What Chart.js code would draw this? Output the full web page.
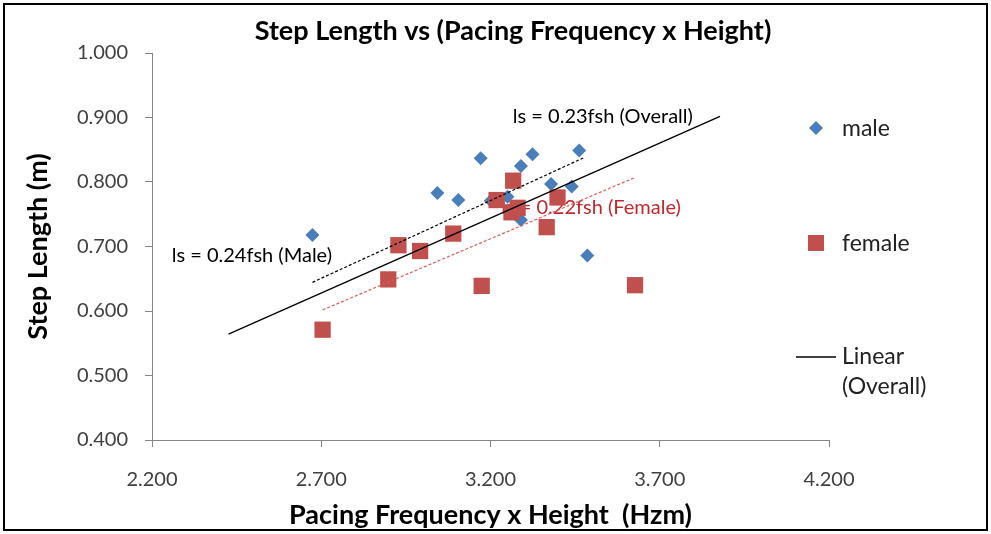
<!DOCTYPE html>
<html lang="en">
<head>
    <meta charset="UTF-8">
    <title>Step Length vs (Pacing Frequency x Height)</title>
    <style>
        body {
            margin: 0;
            background: #fff;
        }
        #chartBox {
            width: 991px;
            height: 534px;
        }
    </style>
</head>
<body>
    <div id="chartBox">
        <canvas id="myChart" width="991" height="534"></canvas>
    </div>
    <script src="https://cdn.jsdelivr.net/npm/chart.js"></script>
    <script>
        // values
        var maleX = [2.674, 3.043, 3.105, 3.171, 3.201, 3.250, 3.290, 3.290, 3.324, 3.379, 3.440, 3.462, 3.486];
        var maleY = [0.718, 0.783, 0.772, 0.837, 0.771, 0.777, 0.825, 0.741, 0.843, 0.797, 0.793, 0.849, 0.686];
        var femaleX = [2.704, 2.898, 2.928, 2.992, 3.090, 3.174, 3.218, 3.262, 3.267, 3.280, 3.366, 3.398, 3.627];
        var femaleY = [0.571, 0.649, 0.702, 0.693, 0.720, 0.639, 0.772, 0.753, 0.802, 0.760, 0.730, 0.776, 0.640];

        // trendlines ls = k * fsh : slope and x range as drawn
        var trendNames = ['Overall', 'Male', 'Female'];
        var trendSlopes = [0.2325, 0.2410, 0.2225];
        var trendFrom = [2.426, 2.674, 2.704];
        var trendTo = [3.878, 3.479, 3.627];
        var trendLabels = ['ls = 0.23fsh (Overall)', 'ls = 0.24fsh (Male)', 'ls = 0.22fsh (Female)'];
        var labelAt = [[3.532, 0.901], [2.495, 0.686], [3.497, 0.760]];

        var xTicks = [2.2, 2.7, 3.2, 3.7, 4.2];
        var yTicks = [0.4, 0.5, 0.6, 0.7, 0.8, 0.9, 1.0];

        var fontName = 'Lato, "Open Sans", sans-serif';

        function points(xs, ys) {
            return xs.map(function(x, i) { return { x: x, y: ys[i] }; });
        }

        function trend(i) {
            return [
                { x: trendFrom[i], y: trendSlopes[i] * trendFrom[i] },
                { x: trendTo[i], y: trendSlopes[i] * trendTo[i] }
            ];
        }

        var extras = {
            id: 'extras',
            beforeDraw: function(chart) {
                var ctx = chart.ctx;
                ctx.save();
                ctx.fillStyle = '#fff';
                ctx.fillRect(0, 0, chart.width, chart.height);
                ctx.restore();
            },
            beforeDatasetsDraw: function(chart) {
                // the equation labels sit under the markers
                var ctx = chart.ctx;
                var xs = chart.scales.x, ys = chart.scales.y;
                ctx.save();
                ctx.font = '20px ' + fontName;
                ctx.textAlign = 'center';
                ctx.textBaseline = 'middle';
                var colors = ['#000', '#000', '#c0282e'];
                for (var i = 0; i < trendLabels.length; i++) {
                    ctx.fillStyle = colors[i];
                    ctx.fillText(trendLabels[i], xs.getPixelForValue(labelAt[i][0]), ys.getPixelForValue(labelAt[i][1]));
                }
                ctx.restore();
            },
            afterDraw: function(chart) {
                var ctx = chart.ctx;
                ctx.save();
                // title
                ctx.fillStyle = '#000';
                ctx.font = 'bold 27px ' + fontName;
                ctx.textAlign = 'center';
                ctx.textBaseline = 'middle';
                ctx.fillText('Step Length vs (Pacing Frequency x Height)', 513, 31);

                // legend
                ctx.font = '23px ' + fontName;
                ctx.textAlign = 'left';
                ctx.fillStyle = '#4a7ebb';
                ctx.beginPath();
                ctx.moveTo(816, 121); ctx.lineTo(823, 128); ctx.lineTo(816, 135); ctx.lineTo(809, 128);
                ctx.closePath();
                ctx.fill();
                ctx.fillStyle = '#c0504d';
                ctx.fillRect(808, 235, 16, 16);
                ctx.strokeStyle = '#000';
                ctx.lineWidth = 1.3;
                ctx.beginPath();
                ctx.moveTo(796, 357); ctx.lineTo(836, 357);
                ctx.stroke();
                ctx.fillStyle = '#222';
                ctx.fillText('male', 842, 129);
                ctx.fillText('female', 842, 244);
                ctx.fillText('Linear', 842, 357);
                ctx.fillText('(Overall)', 842, 387);

                // frame
                ctx.strokeStyle = '#000';
                ctx.lineWidth = 2;
                ctx.strokeRect(4, 4, 983, 526);
                ctx.restore();
            }
        };

        var axisColor = '#868686';

        var config = {
            type: 'scatter',
            data: {
                datasets: [
                    {
                        label: 'Linear (' + trendNames[0] + ')',
                        type: 'line',
                        data: trend(0),
                        borderColor: '#000',
                        borderWidth: 1.3,
                        pointRadius: 0,
                        order: 0
                    },
                    {
                        label: 'Linear (' + trendNames[1] + ')',
                        type: 'line',
                        data: trend(1),
                        borderColor: '#000',
                        borderWidth: 1.2,
                        borderDash: [3, 2],
                        pointRadius: 0,
                        order: 0
                    },
                    {
                        label: 'Linear (' + trendNames[2] + ')',
                        type: 'line',
                        data: trend(2),
                        borderColor: '#e05a5a',
                        borderWidth: 1.2,
                        borderDash: [3, 2],
                        pointRadius: 0,
                        order: 0
                    },
                    {
                        label: 'female',
                        data: points(femaleX, femaleY),
                        pointStyle: 'rect',
                        pointRadius: 11.5,
                        pointHoverRadius: 11.5,
                        backgroundColor: '#c0504d',
                        borderColor: '#c0504d',
                        borderWidth: 0,
                        order: 1
                    },
                    {
                        label: 'male',
                        data: points(maleX, maleY),
                        pointStyle: 'rectRot',
                        pointRadius: 7,
                        pointHoverRadius: 7,
                        backgroundColor: '#4a7ebb',
                        borderColor: '#4a7ebb',
                        borderWidth: 0,
                        order: 2
                    }
                ]
            },
            options: {
                responsive: false,
                animation: false,
                layout: {
                    padding: { left: 0, top: 53, right: 162, bottom: 0 }
                },
                plugins: {
                    legend: { display: false },
                    tooltip: { enabled: false }
                },
                scales: {
                    x: {
                        type: 'linear',
                        min: xTicks[0],
                        max: xTicks[xTicks.length - 1],
                        afterFit: function(s) { s.height = 94; },
                        afterBuildTicks: function(s) { s.ticks = xTicks.map(function(v) { return { value: v }; }); },
                        ticks: {
                            color: '#404040',
                            font: { family: fontName, size: 20 },
                            padding: 21,
                            callback: function(v) { return Number(v).toFixed(3); }
                        },
                        grid: { drawOnChartArea: false, tickLength: 7, color: axisColor },
                        border: { color: axisColor },
                        title: {
                            display: true,
                            text: 'Pacing Frequency x Height  (Hzm)',
                            color: '#000',
                            font: { family: fontName, size: 27, weight: 'bold' },
                            padding: { top: 0, bottom: 3 }
                        }
                    },
                    y: {
                        type: 'linear',
                        min: yTicks[0],
                        max: yTicks[yTicks.length - 1],
                        afterFit: function(s) { s.width = 152; },
                        afterBuildTicks: function(s) { s.ticks = yTicks.map(function(v) { return { value: v }; }); },
                        ticks: {
                            color: '#404040',
                            font: { family: fontName, size: 20 },
                            padding: 17,
                            callback: function(v) { return Number(v).toFixed(3); }
                        },
                        grid: { drawOnChartArea: false, tickLength: 7, color: axisColor },
                        border: { color: axisColor },
                        title: {
                            display: true,
                            text: 'Step Length (m)',
                            color: '#000',
                            font: { family: fontName, size: 27, weight: 'bold' },
                            padding: { top: 22, bottom: 0 }
                        }
                    }
                }
            },
            plugins: [extras]
        };

        var ctx = document.getElementById('myChart').getContext('2d');
        window.myChart = new Chart(ctx, config);
    </script>
</body>
</html>
